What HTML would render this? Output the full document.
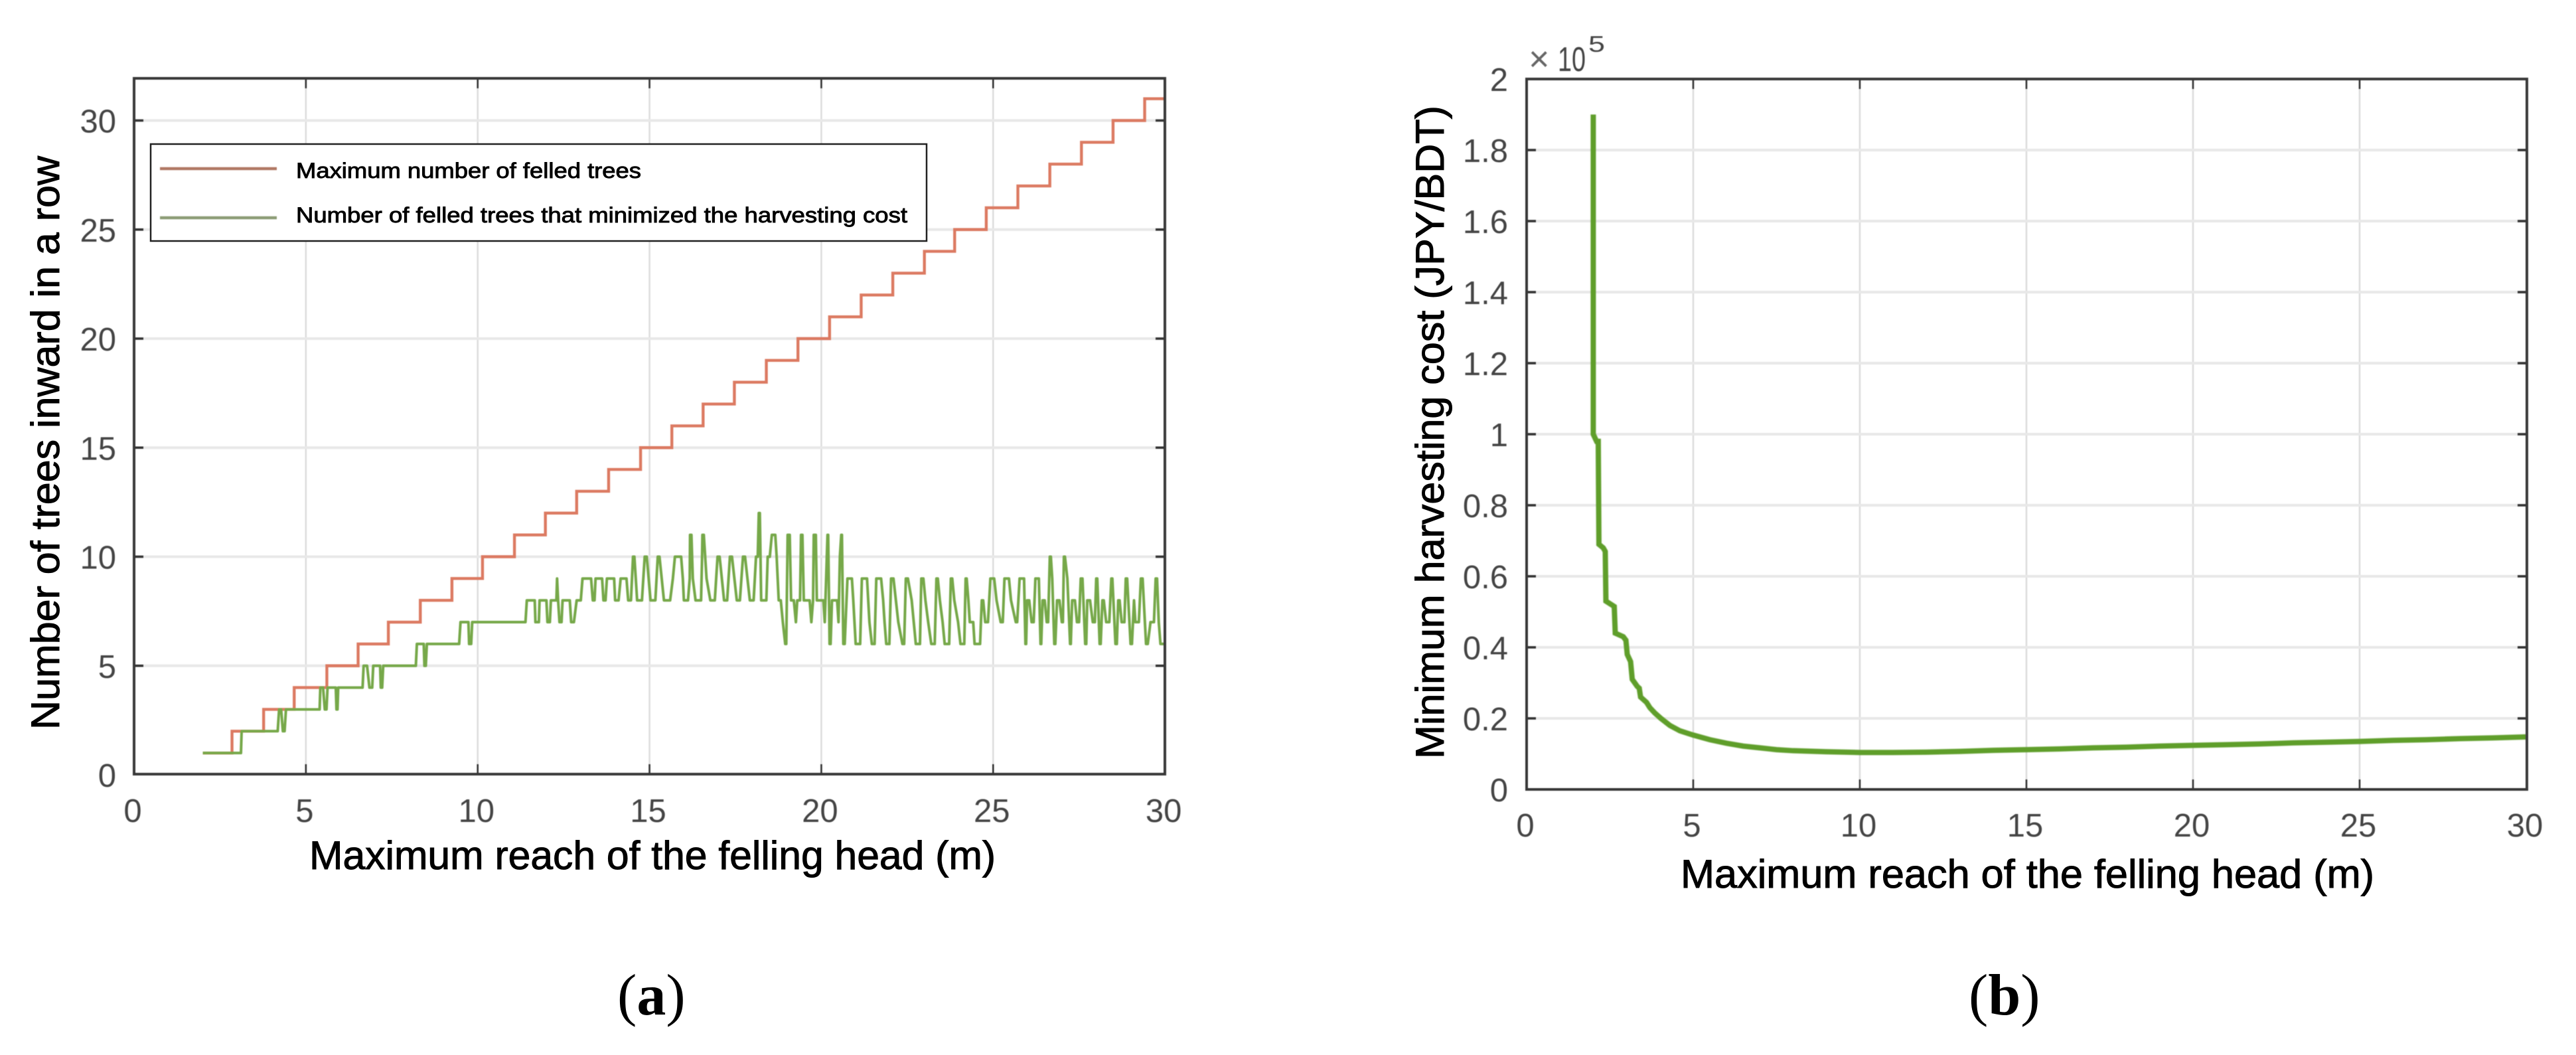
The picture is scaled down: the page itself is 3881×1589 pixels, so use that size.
<!DOCTYPE html>
<html lang="en">
<head>
<meta charset="utf-8">
<title>Felled trees and harvesting cost versus maximum reach</title>
<style>
html,body{margin:0;padding:0;background:#fff;}
body{width:3881px;height:1589px;overflow:hidden;}
svg{display:block;}
text{font-family:"Liberation Sans",sans-serif;}
.title{font-size:60px;fill:#000;stroke:#000;stroke-width:1px;}
.tick{font-size:49px;fill:#444;}
.legend-text{font-size:32px;fill:#000;stroke:#000;stroke-width:.9px;}
.caption{font-family:"Liberation Serif",serif;font-size:88px;fill:#000;}
</style>
</head>
<body>
<svg id="figure" xmlns="http://www.w3.org/2000/svg" width="3881" height="1589" viewBox="0 0 3881 1589">
  <defs>
    <filter id="soft" filterUnits="userSpaceOnUse" x="0" y="0" width="3881" height="1589"><feGaussianBlur stdDeviation="0.9"/></filter>
    <filter id="softer" filterUnits="userSpaceOnUse" x="0" y="0" width="3881" height="1589"><feGaussianBlur stdDeviation="0.6"/></filter>
  </defs>
  <rect x="0" y="0" width="3881" height="1589" fill="#fff"/>

  <g id="chart-a">
    <g id="a-grid" filter="url(#softer)"></g>
    <g id="a-series" filter="url(#softer)"></g>
    <g id="a-axes" filter="url(#softer)"></g>
    <g id="a-ticklabels" filter="url(#softer)"></g>
    <g>
      <rect x="227" y="217" width="1169" height="146" fill="#fff" stroke="#222" stroke-width="2.5"/>
      <line x1="241" y1="254" x2="417" y2="254" stroke="#b07864" stroke-width="4.5" filter="url(#softer)"/>
      <text class="legend-text" x="446" y="268" textLength="520" lengthAdjust="spacingAndGlyphs">Maximum number of felled trees</text>
      <line x1="241" y1="328" x2="417" y2="328" stroke="#8c9c74" stroke-width="4.5" filter="url(#softer)"/>
      <text class="legend-text" x="446" y="335" textLength="921" lengthAdjust="spacingAndGlyphs">Number of felled trees that minimized the harvesting cost</text>
    </g>
    <text class="title" x="466" y="1309" textLength="1034" lengthAdjust="spacingAndGlyphs">Maximum reach of the felling head (m)</text>
    <text class="title" transform="translate(89,1099) rotate(-90)" x="0" y="0" textLength="864" lengthAdjust="spacingAndGlyphs">Number of trees inward in a row</text>
    <text class="caption" x="930" y="1528">(<tspan font-weight="bold">a</tspan>)</text>
  </g>

  <g id="chart-b">
    <g id="b-grid" filter="url(#softer)"></g>
    <g id="b-series" filter="url(#soft)"></g>
    <g id="b-axes" filter="url(#softer)"></g>
    <g id="b-ticklabels" filter="url(#softer)"></g>
    <g filter="url(#softer)">
      <text x="2303" y="107" font-size="54" fill="#666">×</text>
      <text x="2347" y="107" font-size="52" fill="#444" textLength="42" lengthAdjust="spacingAndGlyphs">10</text>
      <text x="2393" y="78" font-size="34" fill="#444" textLength="25" lengthAdjust="spacingAndGlyphs">5</text>
    </g>
    <text class="title" x="2532" y="1337" textLength="1045" lengthAdjust="spacingAndGlyphs">Maximum reach of the felling head (m)</text>
    <text class="title" transform="translate(2175,1143) rotate(-90)" x="0" y="0" textLength="984" lengthAdjust="spacingAndGlyphs">Minimum harvesting cost (JPY/BDT)</text>
    <text class="caption" x="2966" y="1528">(<tspan font-weight="bold">b</tspan>)</text>
  </g>
</svg>

<script>
// ---- Chart (a) data ----
const aXTicks = [0, 5, 10, 15, 20, 25, 30];
const aYTicks = [0, 5, 10, 15, 20, 25, 30];
const maxFelledStart = 1;
// reach (m) at which the maximum number of felled trees rises by one
const maxFelledStepReach = [2.85, 3.77, 4.66, 5.61, 6.52, 7.40, 8.33, 9.25, 10.14, 11.07,
  11.97, 12.88, 13.81, 14.74, 15.65, 16.56, 17.47, 18.4, 19.32, 20.24,
  21.16, 22.08, 23.0, 23.88, 24.8, 25.72, 26.65, 27.57, 28.49, 29.41];
const optimalReach = [
  2,3.11,3.13,4.18,4.22,4.28,4.33,4.38,4.42,5.40,
  5.42,5.50,5.55,5.60,5.63,5.87,5.89,5.92,5.94,6.65,
  6.68,6.78,6.85,6.93,6.96,7.16,7.18,7.22,7.25,8.20,
  8.23,8.43,8.45,8.49,8.52,9.46,9.5,9.73,9.75,9.81,
  9.84,11.39,11.43,11.66,11.68,11.78,11.80,12.0,12.03,12.10,
  12.13,12.29,12.31,12.34,12.38,12.44,12.47,12.68,12.72,12.8,
  12.88,13.0,13.05,13.3,13.35,13.4,13.43,13.62,13.66,13.72,
  13.76,13.97,14.0,14.1,14.16,14.33,14.38,14.46,14.52,14.56,
  14.64,14.78,14.86,14.92,15.03,15.17,15.24,15.29,15.42,15.6,
  15.68,15.74,15.92,15.97,16.0,16.12,16.17,16.18,16.22,16.26,
  16.34,16.5,16.53,16.54,16.58,16.62,16.66,16.77,16.9,16.98,
  17.04,17.17,17.26,17.34,17.4,17.54,17.63,17.72,17.78,17.92,
  18.03,18.1,18.15,18.18,18.21,18.25,18.4,18.44,18.5,18.56,
  18.66,18.7,18.76,18.82,18.88,18.95,18.98,19.02,19.08,19.12,
  19.2,19.26,19.3,19.38,19.41,19.45,19.49,19.66,19.71,19.76,
  19.78,19.84,19.87,20.06,20.1,20.16,20.18,20.2,20.24,20.27,
  20.31,20.46,20.5,20.54,20.58,20.6,20.64,20.68,20.76,20.89,
  20.93,21.0,21.13,21.18,21.33,21.4,21.47,21.55,21.6,21.74,
  21.8,21.84,21.89,21.98,22.03,22.1,22.17,22.24,22.36,22.41,
  22.46,22.52,22.63,22.69,22.75,22.87,22.91,22.97,23.03,23.11,
  23.2,23.3,23.35,23.39,23.45,23.53,23.59,23.72,23.77,23.81,
  23.87,23.98,24.05,24.16,24.2,24.23,24.28,24.32,24.42,24.46,
  24.62,24.67,24.71,24.77,24.85,24.92,25.03,25.1,25.22,25.28,
  25.33,25.46,25.52,25.66,25.7,25.77,25.9,25.94,25.96,25.99,
  26.05,26.12,26.18,26.23,26.33,26.38,26.4,26.44,26.5,26.56,
  26.6,26.65,26.68,26.72,26.78,26.81,26.86,26.93,27.0,27.03,
  27.06,27.09,27.16,27.24,27.26,27.3,27.38,27.44,27.5,27.55,
  27.6,27.68,27.71,27.74,27.82,27.9,27.96,28.0,28.03,28.1,
  28.13,28.18,28.22,28.29,28.38,28.44,28.47,28.56,28.6,28.64,
  28.68,28.74,28.82,28.86,28.9,29.0,29.04,29.1,29.14,29.24,
  29.3,29.35,29.45,29.5,29.58,29.68,29.73,29.77,29.82,29.87,
  30];
const optimalTrees = [
  1,1,2,2,3,3,2,2,3,3,
  4,4,3,3,4,4,3,3,4,4,
  5,5,4,4,5,5,4,4,5,5,
  6,6,5,5,6,6,7,7,6,6,
  7,7,8,8,7,7,8,8,7,7,
  8,8,9,8,7,7,8,8,7,7,
  8,8,9,9,8,8,9,9,8,8,
  9,9,8,8,9,9,8,8,10,10,
  8,8,10,10,8,8,10,10,8,8,
  9,10,10,9,8,8,9,11,11,9,
  8,8,10,11,11,10,9,8,8,10,
  10,8,8,10,10,8,8,10,10,8,
  8,10,10,12,12,8,8,10,10,11,
  11,10,8,8,7,6,6,11,11,8,
  8,7,8,8,11,11,8,8,7,8,
  11,11,8,8,7,10,11,11,6,6,
  8,8,7,10,11,11,6,6,9,9,
  8,6,6,9,9,7,6,6,9,9,
  8,7,6,6,9,9,8,7,6,6,
  9,9,8,7,6,6,9,9,8,7,
  6,6,9,9,8,7,6,6,9,9,
  8,7,6,6,9,9,8,7,7,6,
  6,8,8,7,7,9,9,8,7,7,
  9,9,8,7,7,9,9,6,6,8,
  8,7,7,9,9,6,6,8,8,7,
  7,10,10,9,6,6,8,8,7,7,
  10,10,9,6,6,8,8,7,7,9,
  9,6,6,8,8,7,7,9,9,6,
  6,8,8,7,7,9,9,6,6,8,
  8,7,7,9,9,6,6,8,7,7,
  9,9,6,6,7,7,9,9,7,6,
  6];

// ---- Chart (b) data ----
const bXTicks = [0, 5, 10, 15, 20, 25, 30];
const bYTicks = [0, 0.2, 0.4, 0.6, 0.8, 1, 1.2, 1.4, 1.6, 1.8, 2];
const costReach = [2,2,2.1,2.15,2.17,2.3,2.36,2.38,2.55,2.63,
  2.66,2.9,2.98,3.02,3.12,3.17,3.32,3.38,3.42,3.6,
  3.7,3.85,4.03,4.3,4.6,5,5.5,6,6.5,7,
  7.5,8,9,10,11,12,13,14,15,16,
  17,18,19,20,21,22,23,24,25,26,
  27,28,29,30];
const costValue = [1.9,1.0,0.98,0.98,0.69,0.68,0.67,0.53,0.52,0.515,
  0.44,0.43,0.42,0.38,0.36,0.31,0.29,0.285,0.26,0.245,
  0.23,0.215,0.2,0.18,0.165,0.153,0.14,0.13,0.122,0.117,
  0.112,0.109,0.106,0.104,0.104,0.105,0.107,0.11,0.112,0.114,
  0.117,0.119,0.122,0.124,0.126,0.128,0.131,0.133,0.135,0.138,
  0.14,0.143,0.145,0.148];

// ---- Axis functions ----
const ax = v => 202 + 51.77 * v;
const ay = v => 1167 - 32.85 * v;
const bx = v => 2300 + 50.2 * v;
const by = v => 1189 - 535 * v;
const aBox = {l: 202, r: 1755, t: 118, b: 1166};
const bBox = {l: 2300, r: 3807, t: 119, b: 1189};

const NS = 'http://www.w3.org/2000/svg';
function mk(tag, parent, props) {
  const el = document.createElementNS(NS, tag);
  for (const k in props) el.setAttribute(k, props[k]);
  document.getElementById(parent).appendChild(el);
  return el;
}

function drawFrame(prefix, box, xf, yf, xTicks, yTicks) {
  xTicks.forEach(t => {
    const x = xf(t);
    if (t > 0 && t < 30) {
      const g = mk('line', prefix + '-grid', {x1: x, x2: x, y1: box.t, y2: box.b, stroke: '#dcdcdc', 'stroke-width': 2.5});
      
      
      const t1 = mk('line', prefix + '-axes', {x1: x, x2: x, y1: box.t, y2: box.t + 15, stroke: '#333', 'stroke-width': 2.5});
      
      
      const t2 = mk('line', prefix + '-axes', {x1: x, x2: x, y1: box.b - 15, y2: box.b, stroke: '#333', 'stroke-width': 2.5});
      
      
    }
    const lab = mk('text', prefix + '-ticklabels', {x: x - 2, y: prefix === 'a' ? 1238 : 1260, 'text-anchor': 'middle', class: 'tick'});
    
    
    lab.textContent = String(t);
  });
  yTicks.forEach(t => {
    const y = yf(t);
    const atEdge = y <= box.t + 2 || y >= box.b - 4;
    if (!atEdge) {
      const g = mk('line', prefix + '-grid', {x1: box.l, x2: box.r, y1: y, y2: y, stroke: '#e8e8e8', 'stroke-width': 4});
      
      
      const t1 = mk('line', prefix + '-axes', {x1: box.l, x2: box.l + 14, y1: y, y2: y, stroke: '#333', 'stroke-width': 3.5});
      
      
      const t2 = mk('line', prefix + '-axes', {x1: box.r - 14, x2: box.r, y1: y, y2: y, stroke: '#333', 'stroke-width': 3.5});
      
      
    }
    const lab = mk('text', prefix + '-ticklabels', {x: prefix === 'a' ? 175 : 2272, y: y + 18, 'text-anchor': 'end', class: 'tick'});
    
    
    lab.textContent = String(t);
  });
  const frame = mk('rect', prefix + '-axes', {x: box.l, y: box.t, width: box.r - box.l, height: box.b - box.t, fill: 'none', stroke: '#383838', 'stroke-width': 4});
  
  
}

drawFrame('a', aBox, ax, ay, aXTicks, aYTicks);
drawFrame('b', bBox, bx, by, bXTicks, bYTicks);

// Maximum felled trees (stepped)
let red = 'M' + ax(2) + ' ' + ay(maxFelledStart);
maxFelledStepReach.forEach((r, i) => {
  red += ' L' + ax(r) + ' ' + ay(maxFelledStart + i) + ' L' + ax(r) + ' ' + ay(maxFelledStart + i + 1);
});
red += ' L' + ax(30) + ' ' + ay(maxFelledStart + maxFelledStepReach.length);
const redLine = mk('path', 'a-series', {d: red, fill: 'none', stroke: '#dc7a62', 'stroke-width': 4.4, 'stroke-linejoin': 'miter'});



// Optimal felled trees
const greenD = optimalReach.map((r, i) => (i ? 'L' : 'M') + ax(r) + ' ' + ay(optimalTrees[i])).join(' ');
const greenLine = mk('path', 'a-series', {d: greenD, fill: 'none', stroke: '#76a848', 'stroke-width': 4, 'stroke-linejoin': 'round'});



// Minimum cost
const costD = costReach.map((r, i) => (i ? 'L' : 'M') + bx(r) + ' ' + by(costValue[i])).join(' ');
const costLine = mk('path', 'b-series', {d: costD, fill: 'none', stroke: '#5f9e2a', 'stroke-width': 8, 'stroke-linejoin': 'miter'});


</script>
</body>
</html>
